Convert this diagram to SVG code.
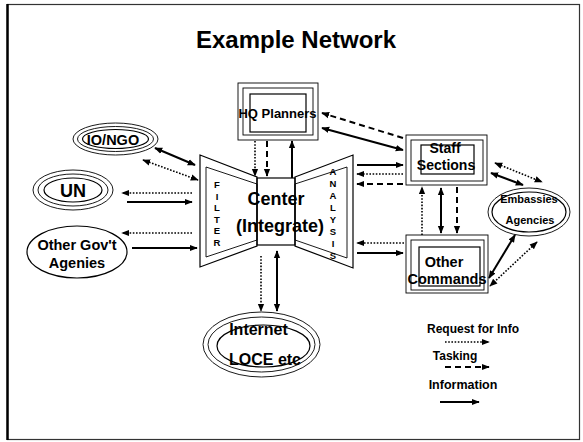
<svg xmlns="http://www.w3.org/2000/svg" width="583" height="442" viewBox="0 0 583 442">
<defs>
<marker id="ah" viewBox="0 0 10 10" refX="9" refY="5" markerWidth="8" markerHeight="8" markerUnits="userSpaceOnUse" orient="auto-start-reverse">
<path d="M0,1 L10,5 L0,9 z" fill="#000"/>
</marker>
</defs>
<style>
text{font-family:"Liberation Sans",Arial,sans-serif;font-weight:bold;fill:#000;text-anchor:middle}
.sh{fill:none;stroke:#000;stroke-width:1.2}
.thin{fill:none;stroke:#000;stroke-width:0.9}
.sol{fill:none;stroke:#000;stroke-width:2}
.dot{fill:none;stroke:#000;stroke-width:1.6;stroke-dasharray:1.6 1.6}
.dash{fill:none;stroke:#000;stroke-width:2;stroke-dasharray:6 4}
.one{marker-end:url(#ah)}
.two{marker-start:url(#ah);marker-end:url(#ah)}
.let{font-size:9.5px}
</style>
<rect width="583" height="442" fill="#fff"/>
<g id="frame">
<rect x="7.5" y="4.5" width="572" height="435" fill="none" stroke="#333" stroke-width="1.2"/>
<line x1="7.5" y1="4" x2="7.5" y2="440" stroke="#000" stroke-width="2.5"/>
</g>
<text x="296" y="48" style="font-size:24px">Example Network</text>

<g id="io-ngo">
<ellipse class="thin" cx="115.5" cy="139" rx="42.5" ry="16"/>
<ellipse class="thin" cx="115.5" cy="139" rx="38" ry="12.5"/>
<ellipse class="sh" cx="115.5" cy="139" rx="33" ry="9.5"/>
<text x="113" y="145" style="font-size:14.5px">IO/NGO</text>
</g>
<g id="un">
<ellipse class="thin" cx="73" cy="190" rx="40" ry="20"/>
<ellipse class="thin" cx="73" cy="190" rx="35" ry="16"/>
<ellipse class="sh" cx="73" cy="190" rx="29" ry="12"/>
<text x="73" y="197" style="font-size:18px">UN</text>
</g>
<g id="other-gov">
<ellipse class="sh" cx="77" cy="252" rx="50" ry="26"/>
<text x="77" y="250" style="font-size:14.5px">Other Gov't</text>
<text x="77" y="268" style="font-size:14.5px">Agenies</text>
</g>
<g id="hq-planners">
<rect class="thin" x="238" y="83" width="80" height="57"/>
<rect class="thin" x="243" y="88" width="70" height="47"/>
<rect class="sh" x="250" y="94" width="56" height="38"/>
<text x="277.5" y="118" style="font-size:13px">HQ Planners</text>
</g>
<g id="center">
<polygon class="sh" points="200,155 257,177 257,246 200,267"/>
<polygon class="thin" points="206,167 257,184 257,240 206,257"/>
<polygon class="sh" points="295,177 353,155 353,268 295,246"/>
<polygon class="thin" points="295,184 347,167 347,258 295,240"/>
<rect class="sh" x="257" y="178" width="38" height="67" fill="#fff"/>
<text x="276" y="205" style="font-size:18px">Center</text>
<text x="280" y="232" style="font-size:18px">(Integrate)</text>
<g class="let">
<text x="217" y="188">F</text><text x="217" y="199.5">I</text><text x="217" y="211">L</text><text x="217" y="222.5">T</text><text x="217" y="234">E</text><text x="217" y="245.5">R</text>
<text x="333" y="175">A</text><text x="333" y="187">N</text><text x="333" y="199">A</text><text x="333" y="211">L</text><text x="333" y="223">Y</text><text x="333" y="235">S</text><text x="333" y="247">I</text><text x="333" y="259">S</text>
</g>
</g>
<g id="staff-sections">
<rect class="thin" x="406" y="135" width="81" height="50"/>
<rect class="thin" x="411" y="140" width="72" height="41"/>
<rect class="sh" x="421" y="145" width="53" height="29"/>
<text x="445" y="153" style="font-size:14px">Staff</text>
<text x="446" y="170" style="font-size:14px">Sections</text>
</g>
<g id="other-commands">
<rect class="thin" x="406" y="235" width="82" height="58"/>
<rect class="thin" x="411" y="240" width="73" height="50"/>
<rect class="sh" x="419" y="247" width="61" height="39"/>
<text x="444" y="267" style="font-size:14.5px">Other</text>
<text x="447" y="284" style="font-size:14.5px">Commands</text>
</g>
<g id="embassies">
<ellipse class="thin" cx="529" cy="212" rx="41" ry="24"/>
<ellipse class="sh" cx="529" cy="212" rx="37" ry="20"/>
<text x="529" y="203" style="font-size:11px">Embassies</text>
<text x="530" y="224" style="font-size:11px">Agencies</text>
</g>
<g id="internet">
<ellipse class="thin" cx="261.5" cy="344.5" rx="58.5" ry="32.5"/>
<ellipse class="thin" cx="261.5" cy="344.5" rx="53.5" ry="27.5"/>
<ellipse class="sh" cx="263.5" cy="346" rx="46.5" ry="21"/>
<text x="258.5" y="335" style="font-size:16px">Internet</text>
<text x="265" y="365" style="font-size:16px">LOCE etc</text>
</g>

<g id="connectors">
<line class="sol two" x1="155" y1="148" x2="195" y2="165"/>
<line class="dot two" x1="143" y1="160" x2="198" y2="180"/>
<line class="dot one" x1="192" y1="193" x2="122" y2="193"/>
<line class="sol one" x1="127" y1="202" x2="192" y2="202"/>
<line class="dot one" x1="192" y1="233" x2="122" y2="233"/>
<line class="sol one" x1="132" y1="248" x2="197" y2="248"/>
<line class="dot one" x1="255" y1="141" x2="255" y2="176"/>
<line class="dash one" x1="267" y1="141" x2="267" y2="176"/>
<line class="sol one" x1="292" y1="178" x2="292" y2="141"/>
<line class="dash one" x1="403" y1="138" x2="322" y2="113"/>
<line class="sol two" x1="322" y1="128" x2="403" y2="150"/>
<line class="sol one" x1="357" y1="165" x2="403" y2="165"/>
<line class="dot one" x1="403" y1="174" x2="357" y2="174"/>
<line class="dash one" x1="403" y1="184" x2="357" y2="184"/>
<line class="dot one" x1="404" y1="243" x2="357" y2="243"/>
<line class="sol one" x1="357" y1="253" x2="403" y2="253"/>
<line class="dot one" x1="422" y1="235" x2="422" y2="187"/>
<line class="sol two" x1="441" y1="188" x2="441" y2="233"/>
<line class="dash one" x1="457" y1="187" x2="457" y2="233"/>
<line class="dot two" x1="495" y1="163" x2="542" y2="182"/>
<line class="sol two" x1="491" y1="173" x2="523" y2="185"/>
<line class="sol two" x1="515" y1="235" x2="489" y2="278"/>
<line class="dot two" x1="537" y1="242" x2="490" y2="286"/>
<line class="dot one" x1="261" y1="256" x2="261" y2="311"/>
<line class="sol two" x1="277" y1="251" x2="277" y2="311"/>
</g>

<g id="legend">
<text x="473" y="333" style="font-size:12px">Request for Info</text>
<line class="dot one" x1="445" y1="342" x2="489" y2="342"/>
<text x="455" y="360" style="font-size:12px">Tasking</text>
<line class="dash one" x1="445" y1="367" x2="489" y2="367"/>
<text x="463" y="389" style="font-size:12.5px">Information</text>
<line class="sol one" x1="440" y1="402" x2="479" y2="402"/>
</g>
</svg>
